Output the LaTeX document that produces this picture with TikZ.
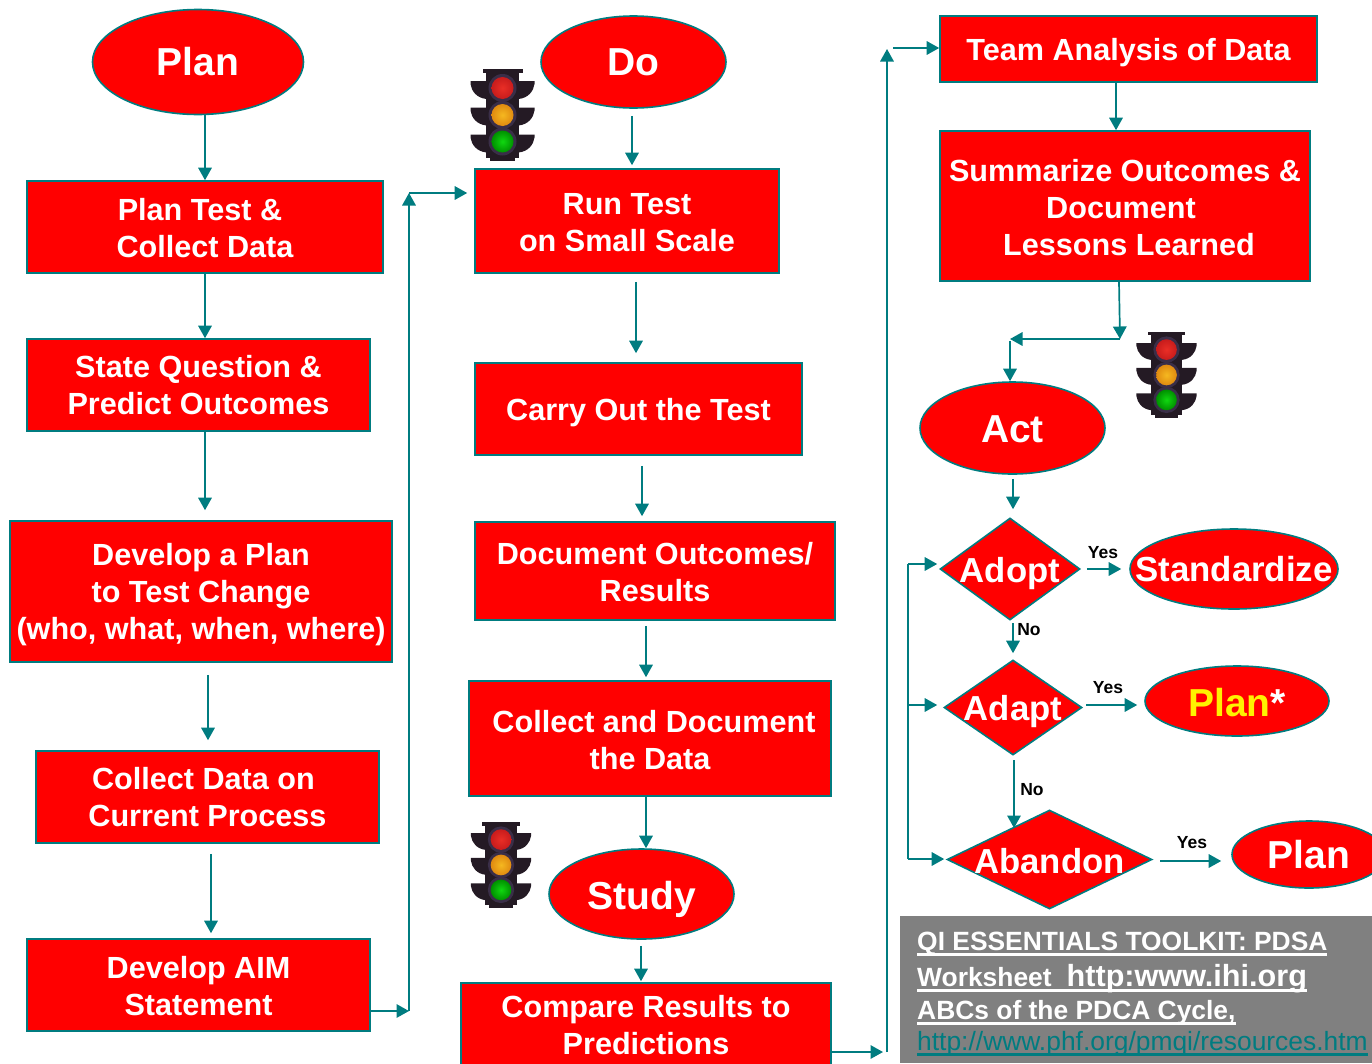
\documentclass[tikz,border=0pt]{standalone}
\usepackage{fontspec}
\setmainfont{Liberation Sans}
\usepackage{xcolor}
\usetikzlibrary{shapes,positioning,calc,arrows.meta}
\definecolor{flowteal}{HTML}{007C80}
\definecolor{refgrey}{HTML}{808080}
\definecolor{lighthousing}{HTML}{241A24}
\definecolor{lightring}{HTML}{3A2E48}
\newcommand{\nowidth}[1]{\makebox[0pt]{#1}}
\newcommand{\sink}[2]{\raisebox{-#1}[\height][\depth]{\begin{tabular}{@{}c@{}}#2\end{tabular}}}
\newsavebox{\rulebox}
\newcommand{\ruled}[1]{\sbox{\rulebox}{#1}\rlap{\usebox{\rulebox}}\rule[-5.5pt]{\wd\rulebox}{2.4pt}}
\tikzset{
  stepbox/.style={rectangle, draw=flowteal, line width=1.6pt, fill=red, text=white, inner sep=0pt, align=center, font=\bfseries\fontsize{30.6}{37}\selectfont},
  oval/.style={ellipse, draw=flowteal, line width=1.6pt, fill=red, text=white, inner sep=0pt, font=\bfseries\fontsize{39}{44}\selectfont},
  decision/.style={diamond, draw=flowteal, line width=1.6pt, fill=red, text=white, inner sep=0pt, font=\bfseries\fontsize{34.7}{40}\selectfont},
  flow/.style={draw=flowteal, line width=1.7pt, -{Triangle[length=12.5pt,width=13.5pt]}},
  answer/.style={text=black, inner sep=0pt, font=\bfseries\fontsize{17.5}{20}\selectfont},
  refline/.style={anchor=base west, inner sep=0pt, text=white, font=\bfseries\fontsize{26.4}{30}\selectfont},
  trafficlight/.pic={
    % Housing
    \fill[lighthousing] (-20,-45.5) rectangle (20,-41.5);
    \fill[lighthousing] (-16.5,-42) rectangle (16.5,43);
    \fill[lighthousing] (-12.5,42) rectangle (12.5,46);
    \foreach \wy in {-33.5,-7,20}{
      \fill[lighthousing] (-16,\wy) -- (-32,\wy) -- (-32,\wy+3) .. controls (-31,\wy+10) and (-26,\wy+17) .. (-16,\wy+18) -- cycle;
      \fill[lighthousing] (16,\wy) -- (32,\wy) -- (32,\wy+3) .. controls (31,\wy+10) and (26,\wy+17) .. (16,\wy+18) -- cycle;
    }
    % Lamps
    \foreach \ly/\lin/\lout in {-26.5/EA2E26/C81C1C,0.5/F5B820/E08A10,27/10D810/009000}{
      \definecolor{lampin}{HTML}{\lin}
      \definecolor{lampout}{HTML}{\lout}
      \fill[lightring] (0,\ly) circle (14);
      \shade[inner color=lampin, outer color=lampout] (0,\ly) circle (11);
    }
  }
}
\begin{document}
\begin{tikzpicture}[x=1pt, y=-1pt]
    \useasboundingbox (0,0) rectangle (1372,1063);
    \clip (0,0) rectangle (1372,1063);

    % Plan column
    \node[oval, minimum width=211pt, minimum height=105pt] (plan) at (198,62) {Plan};
    \node[stepbox, minimum width=356pt, minimum height=92pt] (plantest) at (205,227) {\sink{4.5pt}{Plan Test \&\hspace*{10pt}\\Collect Data}};
    \node[stepbox, minimum width=343pt, minimum height=92pt] (question) at (198.5,385) {State Question \&\\Predict Outcomes};
    \node[stepbox, minimum width=382pt, minimum height=141pt] (develop) at (201,591.5) {\sink{4pt}{Develop a Plan\\to Test Change\\(who, what, when, where)}};
    \node[stepbox, minimum width=343pt, minimum height=92pt] (current) at (207.5,797) {Collect Data on\hspace*{8pt}\\Current Process};
    \node[stepbox, minimum width=343pt, minimum height=92pt] (aim) at (198.5,985) {\sink{5pt}{Develop AIM\\Statement}};

    % Do column
    \node[oval, minimum width=185pt, minimum height=92pt] (do) at (633.5,62) {Do};
    \node[stepbox, minimum width=304pt, minimum height=104pt] (run) at (627,221) {\sink{4.5pt}{Run Test\\on Small Scale}};
    \node[stepbox, minimum width=327pt, minimum height=92pt] (carry) at (638.5,409) {\sink{4pt}{Carry Out the Test}};
    \node[stepbox, minimum width=360pt, minimum height=98pt] (outcomes) at (655,571) {\sink{4.5pt}{Document Outcomes/\\Results}};
    \node[stepbox, minimum width=362pt, minimum height=115pt] (collect) at (650,738.5) {\sink{5.5pt}{\hspace*{8pt}Collect and Document\\the Data}};
    \node[oval, minimum width=185pt, minimum height=90pt] (study) at (641.5,894) {\sink{7pt}{Study}};
    \node[stepbox, minimum width=370pt, minimum height=83pt] (compare) at (646,1024.5) {\sink{4pt}{Compare Results to\\Predictions}};

    % Act column
    \node[stepbox, minimum width=377pt, minimum height=66pt] (team) at (1128.5,49) {\sink{4pt}{Team Analysis of Data}};
    \node[stepbox, minimum width=370pt, minimum height=150pt] (summary) at (1125,206) {\sink{5pt}{Summarize Outcomes \&\\Document\hspace*{8pt}\\\hspace*{8pt}Lessons Learned}};
    \node[oval, minimum width=185pt, minimum height=92pt] (act) at (1012.5,428) {\sink{6pt}{Act}};
    \node[decision, minimum width=140pt, minimum height=102pt] (adopt) at (1010,569) {\nowidth{\sink{5pt}{Adopt}}};
    \node[decision, minimum width=138pt, minimum height=95pt] (adapt) at (1013,707.5) {\nowidth{\sink{5pt}{Adapt}}};
    \node[decision, minimum width=205pt, minimum height=99pt] (abandon) at (1049.5,859.5) {\nowidth{\sink{6pt}{Abandon}}};
    \node[oval, minimum width=208pt, minimum height=80pt, font=\bfseries\fontsize{34.8}{40}\selectfont] (standardize) at (1234,569) {\nowidth{\sink{4pt}{Standardize}}};
    \node[oval, minimum width=184pt, minimum height=70pt] (planstar) at (1237,701) {\sink{7pt}{\textcolor{yellow}{Plan}*}};
    \node[oval, minimum width=154pt, minimum height=67pt] (planagain) at (1309,854.5) {\sink{5pt}{Plan}};

    % Traffic lights
    \pic at (502.5,114.5) {trafficlight};
    \pic[scale=0.94] at (1166.5,374.5) {trafficlight};
    \pic[scale=0.94] at (501,864.5) {trafficlight};

    % Plan arrows
    \draw[flow] ([xshift=7pt]plan.south) -- (plantest.north);
    \draw[flow] (plantest.south) -- ([xshift=6.5pt]question.north);
    \draw[flow, shorten >=10pt] ([xshift=6.5pt]question.south) -- ([xshift=4pt]develop.north);
    \draw[flow, shorten <=12pt, shorten >=10pt] ([xshift=7pt]develop.south) -- ([xshift=0.5pt]current.north);
    \draw[flow, shorten <=10pt, shorten >=5pt] ([xshift=3.5pt]current.south) -- ([xshift=12.5pt]aim.north);

    % Plan to Do
    \coordinate (riselow) at (409,1011);
    \coordinate (risetop) at (409,193);
    \draw[flow] (aim.east |- riselow) -- (riselow);
    \draw[flow] (riselow) -- (risetop);
    \draw[flow, shorten >=7pt] (risetop) -- (run.west |- risetop);

    % Do arrows
    \draw[flow, shorten <=7pt, shorten >=3pt] ([xshift=-1.5pt]do.south) -- ([xshift=5pt]run.north);
    \draw[flow, shorten <=8pt, shorten >=9pt] ([xshift=9pt]run.south) -- ([xshift=-2.5pt]carry.north);
    \draw[flow, shorten <=10pt, shorten >=5pt] ([xshift=3.5pt]carry.south) -- ([xshift=-13pt]outcomes.north);
    \draw[flow, shorten <=5pt, shorten >=3pt] ([xshift=-9pt]outcomes.south) -- ([xshift=-4pt]collect.north);
    \draw[flow] ([xshift=-4pt]collect.south) -- ([xshift=4.5pt]study.north);
    \draw[flow, shorten <=6pt, shorten >=1pt] ([xshift=-0.5pt]study.south) -- ([xshift=-5pt]compare.north);

    % Do to Act
    \coordinate (sidelow) at (887,1052);
    \coordinate (sidetop) at (887,49);
    \coordinate (sidestart) at (893,48);
    \draw[flow, shorten >=4pt] (compare.east |- sidelow) -- (sidelow);
    \draw[flow] (sidelow) -- (sidetop);
    \draw[flow] (sidestart) -- (team.west |- sidestart);

    % Act arrows
    \coordinate (bendright) at (1120,339);
    \coordinate (bendleft) at (1010,339);
    \coordinate (bendstart) at (1010,341);
    \draw[flow] ([xshift=-12.5pt]team.south) -- ([xshift=-9pt]summary.north);
    \draw[flow] ([xshift=-6pt]summary.south) -- (bendright);
    \draw[flow] (bendright) -- (bendleft);
    \draw[flow] (bendstart) -- (bendstart |- act.north);
    \draw[flow, shorten <=4pt, shorten >=8pt] ([xshift=0.5pt]act.south) -- ([xshift=3pt]adopt.north);

    % Decisions
    \draw[flow, shorten <=6pt, shorten >=8pt] (adopt.east) -- (standardize.west);
    \node[answer] (yesadopt) at (1103,553) {Yes};
    \draw[flow, shorten <=2pt, shorten >=6pt] ([xshift=3pt]adopt.south) -- (adapt.north);
    \node[answer] (noadopt) at (1029,630) {No};
    \coordinate (adaptout) at (1086,705);
    \draw[flow, shorten >=7pt] (adaptout) -- (planstar.west |- adaptout);
    \node[answer] (yesadapt) at (1108,688) {Yes};
    \coordinate (dropstart) at (1014,760);
    \coordinate (dropend) at (1014,828);
    \draw[flow] (dropstart) -- (dropend);
    \node[answer] (noadapt) at (1032,790) {No};
    \coordinate (abandonout) at (1160,861);
    \draw[flow, shorten >=10pt] (abandonout) -- (planagain.west |- abandonout);
    \node[answer] (yesabandon) at (1192,843) {Yes};

    % Return line
    \coordinate (returntop) at (908,564);
    \coordinate (returnmid) at (908,705);
    \coordinate (returnlow) at (908,859);
    \draw[draw=flowteal, line width=1.7pt] (returntop) -- (returnlow);
    \draw[flow, shorten >=2pt] (returntop) -- (adopt.west |- returntop);
    \draw[flow, shorten >=6pt] (returnmid) -- (adapt.west |- returnmid);
    \draw[flow, shorten >=2pt] (returnlow) -- (abandon.west |- returnlow);

    % Reference box
    \node[rectangle, fill=refgrey, minimum width=472pt, minimum height=147pt, inner sep=0pt] (refbox) at (1136,989.5) {};
    \node[refline] (refone) at (917,950) {\ruled{QI ESSENTIALS TOOLKIT: PDSA}};
    \node[refline] (reftwo) at (917,986) {\ruled{Worksheet\hspace{15pt}{\fontsize{30.6}{30}\selectfont http:www.ihi.org}}};
    \node[refline] (refthree) at (917,1019) {\ruled{ABCs of the PDCA Cycle,}};
    \node[refline, text=flowteal, font=\fontsize{26.4}{30}\selectfont] (reffour) at (917,1050) {\ruled{http://www.phf.org/pmqi/resources.htm}};
\end{tikzpicture}
\end{document}
